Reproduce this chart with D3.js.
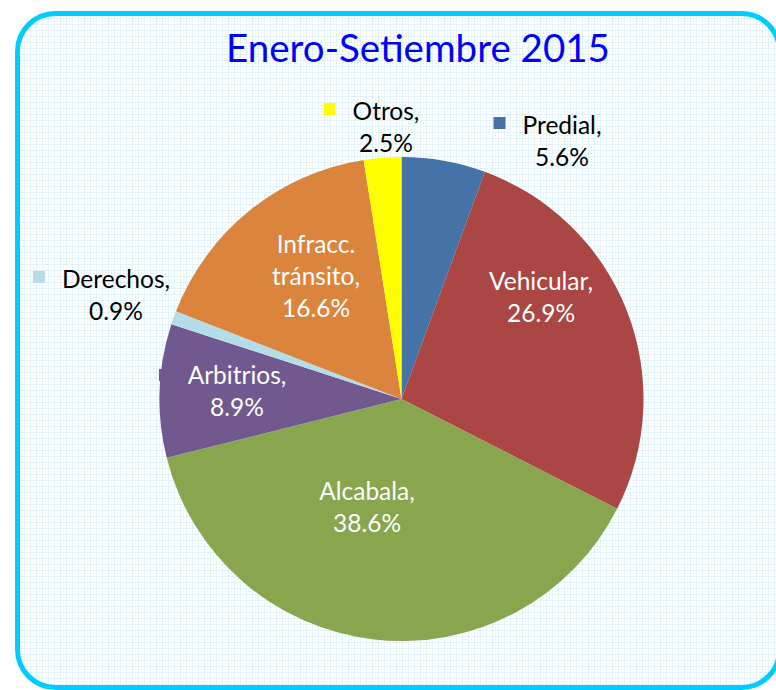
<!DOCTYPE html>
<html>
<head>
<meta charset="UTF-8">
<title>Enero-Setiembre 2015</title>
<script type="text/javascript" src="https://d3js.org/d3.v7.min.js"></script>
<style>
body { margin: 0; background: #fff; }
text { font-family: Lato, "Open Sans", sans-serif; }
</style>
</head>
<body>
<div id="chart"></div>

<script type="text/javascript">

// data (clockwise from 12 o'clock)
var categories = ["Predial", "Vehicular", "Alcabala", "Arbitrios", "Derechos", "Infracc. tránsito", "Otros"]
var shares     = [5.6, 26.9, 38.6, 8.9, 0.9, 16.6, 2.5]
var colours    = ["#4572A7", "#AA4643", "#89A54E", "#71588F", "#B4DDE8", "#DB843D", "#FFFF00"]
var labelLines = [["Predial,"], ["Vehicular,"], ["Alcabala,"], ["Arbitrios,"], ["Derechos,"], ["Infracc.", "tránsito,"], ["Otros,"]]

// layout
var width  = 776
var height = 690
var cx = 401.5, cy = 399, radius = 242
var lineGap = 32

// label anchors (centre x, first baseline y), inside = white text
var labelPos = [
	{x: 562, y: 134, inside: false, key: true},
	{x: 541, y: 290, inside: true},
	{x: 367, y: 500, inside: true},
	{x: 237, y: 384, inside: true},
	{x: 116, y: 288, inside: false, key: true},
	{x: 316, y: 253, inside: true},
	{x: 386, y: 120, inside: false, key: true}
]

var svg = d3.select("#chart")
	.append("svg")
	.attr("width", width)
	.attr("height", height)

// background dot pattern
var defs = svg.append("defs")
var pat = defs.append("pattern")
	.attr("id", "grid")
	.attr("width", 6)
	.attr("height", 6)
	.attr("patternUnits", "userSpaceOnUse")
pat.append("rect").attr("width", 6).attr("height", 6).attr("fill", "#ffffff")
pat.append("rect").attr("x", 0).attr("y", 0).attr("width", 6).attr("height", 1).attr("fill", "#e3f3fa")
pat.append("rect").attr("x", 0).attr("y", 0).attr("width", 1).attr("height", 6).attr("fill", "#e3f3fa")
pat.append("rect").attr("x", 3).attr("y", 3).attr("width", 1).attr("height", 1).attr("fill", "#d9eef8")

svg.append("rect")
	.attr("x", 17.5)
	.attr("y", 13.5)
	.attr("width", 762)
	.attr("height", 674)
	.attr("rx", 38)
	.attr("fill", "url(#grid)")
	.attr("stroke", "#00CCFF")
	.attr("stroke-width", 5)

svg.append("text")
	.attr("x", 418)
	.attr("y", 62)
	.attr("text-anchor", "middle")
	.attr("font-size", 38.5)
	.attr("fill", "#0000FF")
	.text("Enero-Setiembre 2015")

var pie = d3.pie().sort(null).value(function(d) { return d })
var arc = d3.arc().innerRadius(0).outerRadius(radius)
var slices = pie(shares)

var g = svg.append("g")
	.attr("transform", "translate(" + cx + "," + cy + ")")

g.selectAll("path")
	.data(slices).enter()
	.append("path")
	.attr("d", arc)
	.attr("fill", function(d, i) { return colours[i] })

// legend key peeking out of the Arbitrios slice
svg.append("rect")
	.attr("x", 159).attr("y", 369)
	.attr("width", 12).attr("height", 12)
	.attr("fill", colours[3])

// data labels
labelPos.forEach(function(p, i) {
	var lines = labelLines[i].concat([d3.format(".1f")(shares[i]) + "%"])
	var col = p.inside ? "#ffffff" : "#000000"
	lines.forEach(function(t, j) {
		var tx = svg.append("text")
			.attr("x", p.x)
			.attr("y", p.y + j * lineGap)
			.attr("text-anchor", "middle")
			.attr("font-size", 24.5)
			.attr("fill", col)
			.text(t)
		if (j == 0 && p.key) {
			var w = tx.node().getComputedTextLength()
			svg.append("rect")
				.attr("x", p.x - w / 2 - 29)
				.attr("y", p.y - 17)
				.attr("width", 12)
				.attr("height", 12)
				.attr("fill", colours[i])
		}
	})
})

</script>
</body>
</html>
